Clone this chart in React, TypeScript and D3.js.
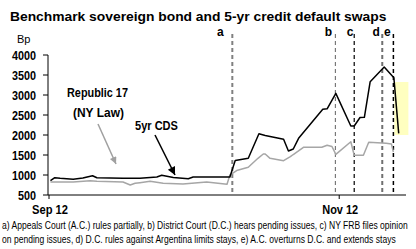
import React, { useLayoutEffect, useRef, useState } from "react";
import * as d3 from "d3";

const W = 416;
const H = 249;

// x in "day units" (Sep 12 tick = 0, Nov 12 tick = 60)
const cdsX = [0.3, 1.2, 2.3, 5.0, 7.0, 9.0, 9.9, 15.3, 18.8, 22.3, 23.3, 25.7, 28.8, 29.8, 37.4, 38.5, 41.2, 43.4, 44.7, 48.5, 49.5, 50.5, 51.6, 56.6, 57.5, 59.3, 62.4, 63.1, 64.3, 65.2, 66.4, 69.3, 71.3, 72.3];
const cdsY = [857, 932, 917, 892, 925, 982, 932, 917, 917, 950, 992, 937, 907, 950, 950, 1362, 1417, 2030, 1987, 1892, 1600, 1650, 1917, 2642, 2655, 3042, 2225, 2225, 2437, 2442, 3332, 3700, 3430, 2042];

const bondX = [0.3, 5.0, 8.5, 9.9, 15.3, 16.8, 17.8, 18.8, 20.9, 23.6, 27.7, 32.6, 36.8, 37.4, 38.8, 41.2, 43.2, 44.3, 44.7, 45.7, 48.5, 49.9, 50.5, 52.6, 56.4, 57.5, 58.5, 59.3, 62.4, 63.1, 65.0, 66.1, 69.7, 70.8, 71.2];
const bondY = [825, 825, 857, 842, 825, 750, 792, 807, 842, 792, 775, 825, 767, 1000, 1112, 1192, 1417, 1525, 1525, 1417, 1357, 1457, 1512, 1692, 1692, 1742, 1712, 1517, 1832, 1495, 1495, 1820, 1792, 1775, 1575];

const eventLabels = ["a", "b", "c", "d", "e"];
const eventX = [37.9, 59.2, 63.1, 68.9, 71.2];
const eventLabelOffset = [-12, -7, -4, -6, -6];
const eventColor = ["#808080", "#606060", "#000000", "#707070", "#000000"];
const eventWidth = [2, 1, 1.2, 2, 1.5];

const yTicks = [500, 1000, 1500, 2000, 2500, 3000, 3500, 4000];
const xTickLabels = ["Sep 12", "Nov 12"];
const xTickValues = [0, 60];

const highlightX = [71.4, 74.3];
const highlightY = [2000, 3325];

const title = "Benchmark sovereign bond and 5-yr credit default swaps";
const unitLabel = "Bp";
const footnote1 = "a) Appeals Court (A.C.) rules partially, b) District Court (D.C.) hears pending issues, c) NY FRB files opinion";
const footnote2 = "on pending issues, d) D.C. rules against Argentina limits stays, e) A.C. overturns D.C. and extends stays";

const FONT = "'Liberation Sans Narrow', 'Arial Narrow', 'Liberation Sans', Arial, sans-serif";

function FitText({ x, y, width, children, ...rest }: any) {
  const ref = useRef<SVGTextElement>(null);
  const [sx, setSx] = useState(1);
  useLayoutEffect(() => {
    if (ref.current) {
      const len = ref.current.getComputedTextLength();
      if (len > 0) setSx(width / len);
    }
  }, [width, children]);
  return (
    <g transform={`translate(${x},${y}) scale(${sx},1)`}>
      <text ref={ref} x={0} y={0} {...rest}>
        {children}
      </text>
    </g>
  );
}

export default function App() {
  const x = d3.scaleLinear().domain([0, 73.6]).range([49, 405]);
  const y = d3.scaleLinear().domain([500, 4000]).range([195, 55]);

  const line = d3
    .line<[number, number]>()
    .x((d) => x(d[0]))
    .y((d) => y(d[1]));

  const cds = cdsX.map((v, i) => [v, cdsY[i]] as [number, number]);
  const bond = bondX.map((v, i) => [v, bondY[i]] as [number, number]);

  const axisLeft = 48;
  const axisBottom = 195;

  return (
    <svg
      width={W}
      height={H}
      style={{ position: "absolute", left: 0, top: 0, background: "#fff" }}
      fontFamily={FONT}
    >
      <defs>
        <marker id="arrBlack" viewBox="0 0 10 10" refX="10" refY="5" markerWidth="13" markerHeight="8" orient="auto" markerUnits="userSpaceOnUse">
          <path d="M0,0 L10,5 L0,10 z" fill="#000" />
        </marker>
        <marker id="arrGray" viewBox="0 0 10 10" refX="10" refY="5" markerWidth="17" markerHeight="7" orient="auto" markerUnits="userSpaceOnUse">
          <path d="M0,0 L10,5 L0,10 z" fill="#a0a0a0" />
        </marker>
      </defs>

      <FitText x={10} y={21} width={377} fontSize={13} fontWeight="bold">
        {title}
      </FitText>
      <text x={17} y={43} fontSize={11}>{unitLabel}</text>

      {/* highlight */}
      <rect
        x={x(highlightX[0])}
        y={y(highlightY[1])}
        width={x(highlightX[1]) - x(highlightX[0])}
        height={y(highlightY[0]) - y(highlightY[1])}
        fill="#ffffc0"
      />

      {/* y axis */}
      <line x1={axisLeft} x2={axisLeft} y1={y(4000)} y2={axisBottom} stroke="#000" strokeWidth={1} />
      {yTicks.map((t) => {
        const label = String(t);
        const w = label.length * 6;
        return (
          <g key={t}>
            <line x1={axisLeft - 5} x2={axisLeft} y1={y(t)} y2={y(t)} stroke="#000" strokeWidth={1} />
            <FitText x={36 - w} y={y(t) + 4.5} width={w} fontSize={13} fontWeight="bold">
              {label}
            </FitText>
          </g>
        );
      })}

      {/* event lines */}
      {eventX.map((ev, i) => (
        <g key={eventLabels[i]}>
          <line
            x1={x(ev)}
            x2={x(ev)}
            y1={34}
            y2={axisBottom - 2}
            stroke={eventColor[i]}
            strokeWidth={eventWidth[i]}
            strokeDasharray="4,3"
          />
          <text x={x(ev) + eventLabelOffset[i]} y={36} fontSize={12} fontWeight="bold" textAnchor="middle">
            {eventLabels[i]}
          </text>
        </g>
      ))}

      {/* series */}
      <path d={line(bond) || ""} fill="none" stroke="#a6a6a6" strokeWidth={1.5} strokeLinejoin="round" />
      <path d={line(cds) || ""} fill="none" stroke="#000" strokeWidth={1.5} strokeLinejoin="round" />

      {/* x axis */}
      <line x1={axisLeft} x2={406} y1={axisBottom} y2={axisBottom} stroke="#000" strokeWidth={1} />
      {xTickValues.map((t, i) => (
        <g key={t}>
          <line x1={x(t)} x2={x(t)} y1={axisBottom} y2={axisBottom + 4} stroke="#000" strokeWidth={1} />
          <FitText x={x(t) + 1 - 18} y={214} width={36} fontSize={13} fontWeight="bold">
            {xTickLabels[i]}
          </FitText>
        </g>
      ))}

      {/* annotations */}
      <FitText x={67} y={97} width={61} fontSize={13} fontWeight="bold">Republic 17</FitText>
      <FitText x={73} y={117} width={51} fontSize={13} fontWeight="bold">(NY Law)</FitText>
      <line x1={98} y1={124} x2={116} y2={164} stroke="#a0a0a0" strokeWidth={1.5} markerEnd="url(#arrGray)" />

      <FitText x={135} y={130} width={43} fontSize={13} fontWeight="bold">5yr CDS</FitText>
      <line x1={155} y1={135} x2={175} y2={175} stroke="#000" strokeWidth={1.5} markerEnd="url(#arrBlack)" />

      <FitText x={2} y={229} width={406} fontSize={11}>{footnote1}</FitText>
      <FitText x={2} y={243} width={394} fontSize={11}>{footnote2}</FitText>
    </svg>
  );
}
